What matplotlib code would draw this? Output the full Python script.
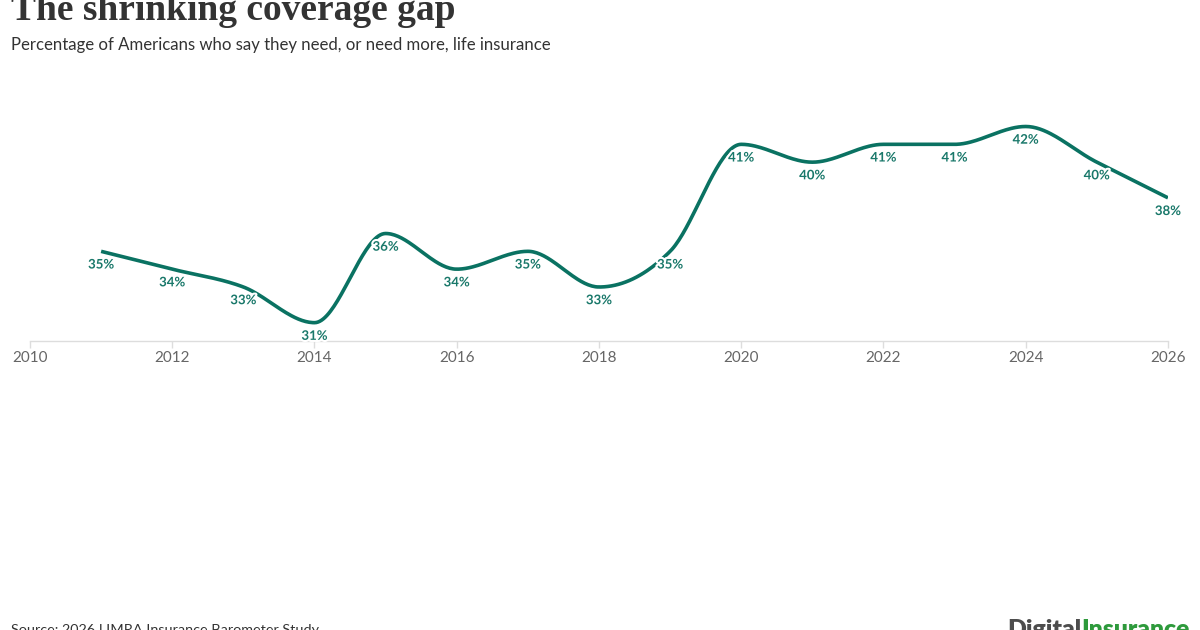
import numpy as np
import matplotlib
matplotlib.use("Agg")
import matplotlib.pyplot as plt
import matplotlib.patheffects as pe

years = [2011, 2012, 2013, 2014, 2015, 2016, 2017, 2018, 2019, 2020, 2021, 2022, 2023, 2024, 2025, 2026]
values = [35, 34, 33, 31, 36, 34, 35, 33, 35, 41, 40, 41, 41, 42, 40, 38]
labels = [f"{v}%" for v in values]
xticks = [2010, 2012, 2014, 2016, 2018, 2020, 2022, 2024, 2026]

LINE = "#0a7262"
LABEL = "#19786a"


def monotone_x(x, y, n=40):
    # d3 curveMonotoneX (Steffen) interpolation
    x = np.asarray(x, float); y = np.asarray(y, float)
    h = np.diff(x); s = np.diff(y) / h
    m = np.zeros_like(y)
    for i in range(1, len(y) - 1):
        p = (s[i - 1] * h[i] + s[i] * h[i - 1]) / (h[i - 1] + h[i])
        m[i] = (np.sign(s[i - 1]) + np.sign(s[i])) * min(abs(s[i - 1]), abs(s[i]), 0.5 * abs(p))
    m[0] = (3 * s[0] - m[1]) / 2 if len(y) > 2 else s[0]
    m[-1] = (3 * s[-1] - m[-2]) / 2 if len(y) > 2 else s[-1]
    xs, ys = [], []
    for i in range(len(y) - 1):
        t = np.linspace(0, 1, n, endpoint=(i == len(y) - 2))
        x0, x1, y0, y1 = x[i], x[i + 1], y[i], y[i + 1]
        dx = x1 - x0
        p0 = (x0, y0); p1 = (x0 + dx / 3, y0 + m[i] * dx / 3)
        p2 = (x1 - dx / 3, y1 - m[i + 1] * dx / 3); p3 = (x1, y1)
        bx = (1 - t) ** 3 * p0[0] + 3 * (1 - t) ** 2 * t * p1[0] + 3 * (1 - t) * t ** 2 * p2[0] + t ** 3 * p3[0]
        by = (1 - t) ** 3 * p0[1] + 3 * (1 - t) ** 2 * t * p1[1] + 3 * (1 - t) * t ** 2 * p2[1] + t ** 3 * p3[1]
        xs.append(bx); ys.append(by)
    return np.concatenate(xs), np.concatenate(ys)


fig = plt.figure(figsize=(12, 6.3), dpi=100)
ax = fig.add_axes([0.025, 1 - 340.5 / 630, 0.9483, (340.5 - 73) / 630])

cx, cy = monotone_x(years, values)
ax.plot(cx, cy, color=LINE, lw=2.6, solid_capstyle="butt", zorder=2)

for xv, yv, lab in zip(years, values, labels):
    ax.annotate(lab, (xv, yv), xytext=(0, -9.5), textcoords="offset points",
                ha="center", va="center", fontsize=9.5, color=LABEL,
                family="Lato", fontweight="bold", zorder=3,
                path_effects=[pe.withStroke(linewidth=3, foreground="white")])

ax.set_xlim(2010, 2026)
ax.set_ylim(30, 45)
ax.set_yticks([])
ax.set_xticks(xticks)
ax.set_xticklabels([str(t) for t in xticks], family="Lato", fontsize=11, color="#666666")
ax.tick_params(axis="x", length=5, width=1, color="#dddddd", pad=2.5)
for s in ["left", "right", "top"]:
    ax.spines[s].set_visible(False)
ax.spines["bottom"].set_color("#dddddd")
ax.spines["bottom"].set_linewidth(1)
ax.set_facecolor("none")

fig.text(0.009, 1 - 20 / 630, "The shrinking coverage gap", family="Liberation Serif",
         fontsize=27, fontweight="bold", color="#333333", va="baseline")
fig.text(0.009, 1 - 45 / 630, "Percentage of Americans who say they need, or need more, life insurance",
         family="Lato", fontsize=12.1, color="#333333", va="center")
fig.text(0.009, 1 - 634 / 630, "Source: 2026 LIMRA Insurance Barometer Study",
         family="Lato", fontsize=10.4, color="#333333", va="baseline")
t1 = fig.text(0.839, 1 - 637 / 630, "Digital", family="Lato", fontsize=17.8,
              fontweight="heavy", color="#4d4d4d", va="baseline")
fig.canvas.draw()
bb = t1.get_window_extent()
fig.text(bb.x1 / fig.bbox.width, 1 - 637 / 630, "Insurance", family="Lato", fontsize=17.8,
         fontweight="heavy", color="#2e9a3c", va="baseline")

fig.savefig("out.png", dpi=100, facecolor="white")
